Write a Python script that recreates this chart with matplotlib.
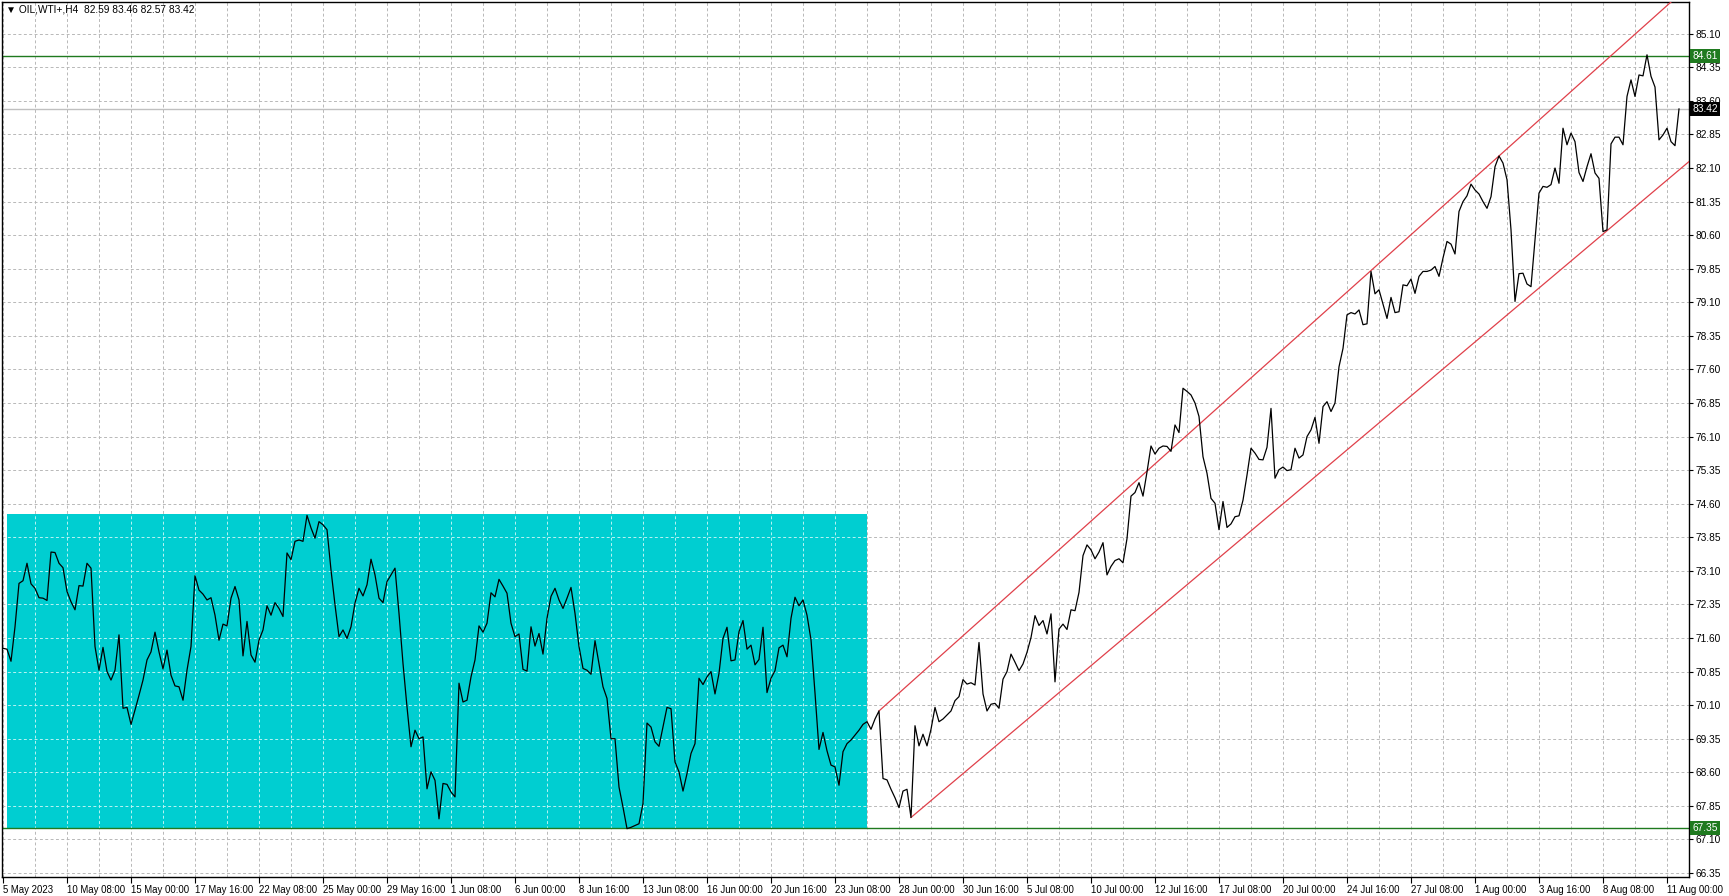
import matplotlib
matplotlib.use("Agg")
import matplotlib.pyplot as plt
import matplotlib.patches as mpatches
import matplotlib.transforms as mtransforms
import numpy as np

plt.rcParams['font.family'] = ['Liberation Sans', 'DejaVu Sans']

symbol_title = "OIL,WTI+,H4  82.59 83.46 82.57 83.42"

# H4 closes, one per bar
close = [
    71.37, 71.35, 71.08, 71.85, 72.82, 72.88, 73.27, 72.81, 72.71, 72.50,
    72.49, 72.44, 73.52, 73.51, 73.27, 73.17, 72.64, 72.41, 72.23, 72.77,
    72.76, 73.27, 73.16, 71.41, 70.88, 71.39, 70.85, 70.66, 70.88, 71.67,
    70.03, 70.05, 69.67, 69.99, 70.32, 70.66, 71.11, 71.29, 71.73, 71.29,
    70.91, 71.33, 70.77, 70.53, 70.51, 70.21, 70.88, 71.41, 72.99, 72.67,
    72.58, 72.45, 72.50, 72.11, 71.55, 71.91, 71.87, 72.49, 72.75, 72.45,
    71.20, 71.97, 71.22, 71.06, 71.55, 71.78, 72.32, 72.11, 72.39, 72.26,
    72.08, 73.50, 73.35, 73.76, 73.79, 73.76, 74.34, 74.06, 73.83, 74.20,
    74.13, 74.02, 73.12, 72.34, 71.63, 71.78, 71.59, 71.85, 72.38, 72.71,
    72.54, 72.79, 73.36, 73.01, 72.49, 72.39, 72.86, 73.01, 73.16, 72.15,
    71.03, 70.06, 69.17, 69.54, 69.35, 69.39, 68.23, 68.61, 68.42, 67.56,
    68.35, 68.33, 68.16, 68.05, 70.59, 70.17, 70.21, 70.73, 71.11, 71.87,
    71.73, 71.93, 72.61, 72.52, 72.91, 72.76, 72.60, 71.93, 71.63, 71.69,
    70.90, 70.86, 71.85, 71.42, 71.70, 71.24, 72.04, 72.53, 72.71, 72.45,
    72.26, 72.49, 72.73, 72.15, 71.41, 70.92, 70.88, 70.79, 71.54, 71.03,
    70.51, 70.25, 69.35, 69.35, 68.27, 67.82, 67.34, 67.37, 67.41, 67.45,
    67.90, 69.70, 69.61, 69.28, 69.18, 69.61, 70.05, 70.02, 68.83, 68.61,
    68.18, 68.57, 69.02, 69.24, 70.70, 70.56, 70.73, 70.85, 70.35, 70.81,
    71.59, 71.84, 71.09, 71.11, 71.74, 71.99, 71.35, 71.44, 71.00, 71.12,
    71.84, 70.38, 70.70, 70.87, 71.38, 71.44, 71.18, 72.04, 72.51, 72.32,
    72.45, 72.11, 71.56, 70.37, 69.11, 69.49, 69.08, 68.76, 68.72, 68.31,
    69.06, 69.24, 69.32, 69.43, 69.54, 69.67, 69.73, 69.56, 69.79, 69.97,
    68.46, 68.43, 68.22, 68.03, 67.81, 68.18, 68.22, 67.59, 69.64, 69.19,
    69.45, 69.19, 69.56, 70.05, 69.73, 69.79, 69.88, 69.97, 70.20, 70.29,
    70.67, 70.57, 70.60, 70.55, 71.50, 70.35, 69.97, 70.12, 70.14, 70.03,
    70.68, 70.85, 71.24, 71.06, 70.87, 71.02, 71.28, 71.61, 72.10, 71.88,
    71.99, 71.69, 72.14, 70.62, 71.80, 71.91, 71.79, 72.23, 72.21, 72.62,
    73.44, 73.68, 73.57, 73.37, 73.52, 73.73, 73.01, 73.20, 73.33, 73.37,
    73.28, 73.82, 74.77, 74.85, 75.07, 74.77, 75.31, 75.89, 75.71, 75.84,
    75.89, 75.88, 75.77, 76.36, 76.19, 77.18, 77.11, 77.03, 76.85, 76.55,
    75.65, 75.28, 74.72, 74.61, 74.02, 74.65, 74.07, 74.15, 74.31, 74.33,
    74.68, 75.24, 75.84, 75.73, 75.59, 75.58, 75.86, 76.73, 75.17, 75.36,
    75.42, 75.34, 75.36, 75.84, 75.62, 75.69, 76.10, 76.25, 76.53, 75.95,
    76.77, 76.88, 76.66, 76.85, 77.66, 78.07, 78.82, 78.87, 78.84, 78.93,
    78.60, 78.62, 79.79, 79.29, 79.38, 79.06, 78.74, 79.21, 78.87, 78.89,
    79.49, 79.47, 79.62, 79.30, 79.68, 79.79, 79.79, 79.82, 79.90, 79.68,
    80.09, 80.46, 80.40, 80.18, 81.13, 81.35, 81.48, 81.74, 81.61, 81.52,
    81.35, 81.20, 81.46, 82.13, 82.37, 82.21, 81.84, 80.72, 79.12, 79.74,
    79.75, 79.51, 79.45, 80.50, 81.54, 81.69, 81.67, 81.73, 82.10, 81.76,
    82.99, 82.62, 82.88, 82.69, 82.00, 81.80, 82.13, 82.42, 81.99, 81.87,
    80.68, 80.72, 82.64, 82.79, 82.79, 82.62, 83.70, 84.07, 83.70, 84.18,
    84.16, 84.63, 84.15, 83.91, 82.73, 82.84, 82.99, 82.69, 82.60, 83.42,
]

time_labels = [
    "5 May 2023", "10 May 08:00", "15 May 00:00", "17 May 16:00", "22 May 08:00",
    "25 May 00:00", "29 May 16:00", "1 Jun 08:00", "6 Jun 00:00", "8 Jun 16:00",
    "13 Jun 08:00", "16 Jun 00:00", "20 Jun 16:00", "23 Jun 08:00", "28 Jun 00:00",
    "30 Jun 16:00", "5 Jul 08:00", "10 Jul 00:00", "12 Jul 16:00", "17 Jul 08:00",
    "20 Jul 00:00", "24 Jul 16:00", "27 Jul 08:00", "1 Aug 00:00", "3 Aug 16:00",
    "8 Aug 08:00", "11 Aug 00:00",
]
label_every = 16   # bars between time labels
grid_every = 8     # bars between vertical grid lines

price_ticks = [round(66.35 + 0.75 * i, 2) for i in range(26)]

level_high = 84.61
level_low = 67.35
last_price = 83.42

# range box (bars / prices)
box_bars = (1, 216)
box_prices = (67.35, 74.37)

# trend lines: two anchor points each (bar, price), drawn as rays
upper_trend = ((219, 69.97), (374, 82.37))
lower_trend = ((227, 67.59), (401, 80.70))

x_min, x_max = -0.25, 421.5
y_min, y_max = 66.26, 85.81

W, H = 1729, 896
fig = plt.figure(figsize=(W / 100, H / 100), dpi=100)
fig.patch.set_facecolor('white')
ax = fig.add_axes([2 / W, 19 / H, 1687 / W, 875 / H])

bars = np.arange(len(close))

# range box
rect = mpatches.Rectangle((box_bars[0], box_prices[0]), box_bars[1] - box_bars[0],
                          box_prices[1] - box_prices[0], facecolor='#00CED1',
                          edgecolor='none', zorder=1)
ax.add_patch(rect)

# grid
ax.set_yticks(price_ticks)
ax.set_xticks(np.arange(0, len(close), label_every))
ax.set_xticks(np.arange(0, x_max, grid_every), minor=True)
grid_style = dict(color='#b8b8b8', linestyle=(0, (3, 2.5)), linewidth=0.7)
ax.grid(axis='y', which='major', **grid_style)
ax.grid(axis='x', which='both', **grid_style)
ax.set_axisbelow(True)

# lighter grid dashes inside the box
gy = ax.hlines(price_ticks, x_min, x_max, colors='#b8f4f4',
               linestyles=(0, (3, 2.5)), linewidth=0.7, zorder=1.2)
gx = ax.vlines(np.arange(0, x_max, grid_every), y_min, y_max, colors='#b8f4f4',
               linestyles=(0, (3, 2.5)), linewidth=0.7, zorder=1.2)
gy.set_clip_path(rect)
gx.set_clip_path(rect)

# horizontal levels
ax.axhline(level_high, color='#1f7a1f', linewidth=1.0, zorder=2)
ax.axhline(level_low, color='#1f7a1f', linewidth=1.0, zorder=2)
ax.axhline(last_price, color='#c0c0c0', linewidth=1.0, zorder=2)

# trend lines
for (b0, p0), (b1, p1) in (upper_trend, lower_trend):
    slope = (p1 - p0) / (b1 - b0)
    ax.plot([b0, x_max], [p0, p0 + slope * (x_max - b0)], color='#e0404a',
            linewidth=0.9, zorder=3)

# price line
ax.plot(bars, close, color='black', linewidth=0.9, zorder=4)

ax.set_xlim(x_min, x_max)
ax.set_ylim(y_min, y_max)

# axes styling
for sp in ax.spines.values():
    sp.set_color('black')
    sp.set_linewidth(1.0)
ax.yaxis.tick_right()
ax.set_yticklabels([f"{p:.2f}" for p in price_ticks])
ax.set_xticklabels(time_labels)
for lbl in ax.get_xticklabels():
    lbl.set_horizontalalignment('left')
ax.tick_params(axis='y', direction='out', length=3, width=0.8, pad=2,
               labelsize=7.3, colors='black')
ax.tick_params(axis='x', which='major', direction='out', length=4, width=0.8,
               pad=2, labelsize=6.9, colors='black')
ax.tick_params(axis='x', which='minor', length=0)

# price labels on the right scale
trans = mtransforms.blended_transform_factory(ax.transAxes, ax.transData)
for price, bg in ((level_high, '#1f7a1f'), (last_price, 'black'), (level_low, '#1f7a1f')):
    ax.annotate(f"{price:.2f}", xy=(1, price), xycoords=trans,
                xytext=(2.5, 0), textcoords='offset points', va='center', ha='left',
                fontsize=7.3, color='white', zorder=10, annotation_clip=False,
                bbox=dict(boxstyle='square,pad=0.2', facecolor=bg, edgecolor='none'))

# symbol header
fig.text(6 / W, 1 - 10 / H, "\u25bc " + symbol_title, fontsize=7.3, va='center',
         ha='left', color='black')

fig.savefig('out.png', dpi=100)
